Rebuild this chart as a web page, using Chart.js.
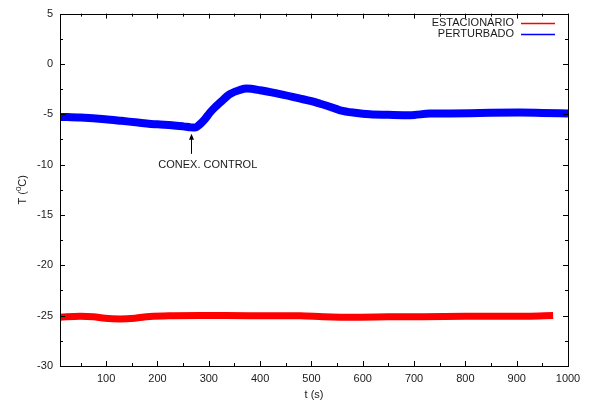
<!DOCTYPE html>
<html><head><meta charset="utf-8">
<script src="https://cdn.jsdelivr.net/npm/chart.js@4.4.0/dist/chart.umd.min.js"></script>
<style>html,body{margin:0;padding:0;background:#fff}#wrap{width:589px;height:403px}</style>
</head><body><div id="wrap"><canvas id="c" width="589" height="403"></canvas></div>
<script>
// ---- data ----
const tPert = [10, 50, 98, 130, 162, 200, 228, 250, 265, 273, 283, 292, 302, 312, 322, 341, 361, 374, 400, 439, 478, 500, 517, 530, 556, 585, 614, 650, 692, 731, 770, 809, 848, 907, 950, 1000];
const perturbado = [-5.26, -5.33, -5.49, -5.65, -5.82, -6.0, -6.08, -6.2, -6.3, -6.32, -5.98, -5.5, -4.85, -4.3, -3.84, -3.0, -2.58, -2.45, -2.61, -3.0, -3.44, -3.7, -3.95, -4.15, -4.6, -4.85, -5.0, -5.05, -5.09, -4.93, -4.92, -4.9, -4.85, -4.83, -4.86, -4.93];
const tEst = [10, 49, 75, 98, 127, 156, 185, 230, 283, 380, 478, 523, 589, 650, 718, 800, 848, 920, 971];
const estacionario = [-25.15, -25.05, -25.1, -25.26, -25.32, -25.25, -25.08, -25.0, -24.98, -25.0, -25.0, -25.1, -25.15, -25.12, -25.1, -25.07, -25.05, -25.05, -24.98];
const seriesNames = ['ESTACIONARIO', 'PERTURBADO'];
const seriesColors = ['#ff0000', '#0000ff'];
const xTicks = [100, 200, 300, 400, 500, 600, 700, 800, 900, 1000];
const yTicks = [-30, -25, -20, -15, -10, -5, 0, 5];
const xTitle = 't (s)';
const annotationText = 'CONEX. CONTROL';
const annotationT = 265;

const FONT = '"Liberation Sans", Arial, Helvetica, sans-serif';
const TXT = '#1a1a1a';

const toPts = (xs, ys) => xs.map((x, i) => ({x: x, y: ys[i]}));

const overlay = {
  id: 'overlay',
  afterDatasetsDraw(chart) {
    const ctx = chart.ctx, a = chart.chartArea;
    const xs = chart.scales.x, ys = chart.scales.y;
    ctx.save();
    ctx.strokeStyle = '#000';
    ctx.lineWidth = 1;
    ctx.strokeRect(Math.round(a.left) + 0.5, Math.round(a.top) + 0.5, Math.round(a.right - a.left), Math.round(a.bottom - a.top));
    ctx.beginPath();
    for (let v = 50; v <= 1000; v += 50) {
      if (v < xs.min) continue;
      const px = Math.round(xs.getPixelForValue(v)) + 0.5;
      const len = (v % 100 === 0) ? 5 : 3;
      ctx.moveTo(px, a.bottom); ctx.lineTo(px, a.bottom - len);
      ctx.moveTo(px, a.top); ctx.lineTo(px, a.top + len);
    }
    for (let v = -30; v <= 5; v += 2.5) {
      const py = Math.round(ys.getPixelForValue(v)) + 0.5;
      const len = (v % 5 === 0) ? 5 : 3;
      ctx.moveTo(a.left, py); ctx.lineTo(a.left + len, py);
      ctx.moveTo(a.right, py); ctx.lineTo(a.right - len, py);
    }
    ctx.stroke();

    ctx.font = '11px ' + FONT;
    ctx.textAlign = 'right';
    ctx.textBaseline = 'middle';
    seriesNames.forEach((name, i) => {
      const y = 23 + i * 11;
      ctx.fillStyle = TXT;
      ctx.fillText(name, 514, y);
      ctx.beginPath();
      ctx.strokeStyle = seriesColors[i];
      ctx.lineWidth = 1.5;
      ctx.moveTo(521, y + 0.5); ctx.lineTo(555, y + 0.5);
      ctx.stroke();
    });

    const ax = Math.round(xs.getPixelForValue(annotationT)) + 0.5;
    const tip = ys.getPixelForValue(-6.94);
    const tail = ys.getPixelForValue(-8.93);
    ctx.strokeStyle = '#000'; ctx.fillStyle = '#000'; ctx.lineWidth = 1;
    ctx.beginPath(); ctx.moveTo(ax, tail); ctx.lineTo(ax, tip + 4); ctx.stroke();
    ctx.beginPath(); ctx.moveTo(ax, tip); ctx.lineTo(ax - 2.5, tip + 6); ctx.lineTo(ax + 2.5, tip + 6); ctx.closePath(); ctx.fill();
    ctx.fillStyle = TXT;
    ctx.textAlign = 'center';
    ctx.fillText(annotationText, xs.getPixelForValue(298), ys.getPixelForValue(-10.05));

    ctx.fillText(xTitle, (a.left + a.right) / 2, 395);
    ctx.save();
    ctx.translate(23, (a.top + a.bottom) / 2);
    ctx.rotate(-Math.PI / 2);
    ctx.textAlign = 'left';
    const p1 = 'T (', p2 = '0', p3 = 'C)';
    ctx.font = '11px ' + FONT;
    const w1 = ctx.measureText(p1).width, w3 = ctx.measureText(p3).width;
    ctx.font = '8px ' + FONT;
    const w2 = ctx.measureText(p2).width;
    const total = w1 + w2 + w3;
    let x0 = -total / 2;
    ctx.font = '11px ' + FONT;
    ctx.fillText(p1, x0, 0);
    ctx.font = '8px ' + FONT;
    ctx.fillText(p2, x0 + w1, -4);
    ctx.font = '11px ' + FONT;
    ctx.fillText(p3, x0 + w1 + w2, 0);
    ctx.restore();
    ctx.restore();
  }
};

new Chart(document.getElementById('c'), {
  type: 'line',
  data: {
    datasets: [
      {label: seriesNames[0], data: toPts(tEst, estacionario), borderColor: seriesColors[0], backgroundColor: seriesColors[0], borderWidth: 7, pointRadius: 0, cubicInterpolationMode: 'monotone', borderCapStyle: 'butt'},
      {label: seriesNames[1], data: toPts(tPert, perturbado), borderColor: seriesColors[1], backgroundColor: seriesColors[1], borderWidth: 8, pointRadius: 0, cubicInterpolationMode: 'monotone', borderCapStyle: 'butt'}
    ]
  },
  options: {
    responsive: false,
    animation: false,
    devicePixelRatio: 1,
    layout: {padding: {top: 12, right: 21, left: 0, bottom: 0}},
    plugins: {legend: {display: false}, tooltip: {enabled: false}},
    scales: {
      x: {
        type: 'linear', min: 10, max: 1000,
        afterBuildTicks: s => { s.ticks = xTicks.map(v => ({value: v})); },
        afterFit: s => { s.height = 37; },
        grid: {display: false, drawTicks: false}, border: {display: false},
        ticks: {font: {family: FONT, size: 11}, color: TXT, padding: 6, maxRotation: 0, autoSkip: false, callback: v => String(v)}
      },
      y: {
        type: 'linear', min: -30, max: 5,
        afterBuildTicks: s => { s.ticks = yTicks.map(v => ({value: v})); },
        afterFit: s => { s.width = 60; },
        grid: {display: false, drawTicks: false}, border: {display: false},
        ticks: {font: {family: FONT, size: 11}, color: TXT, padding: 7, autoSkip: false, callback: v => String(v)}
      }
    }
  },
  plugins: [overlay]
});
</script></body></html>
